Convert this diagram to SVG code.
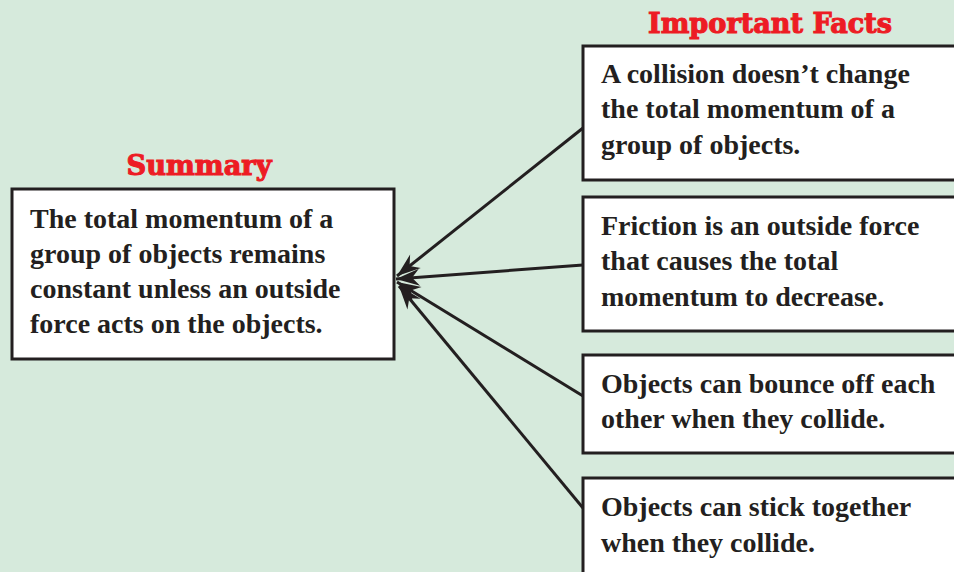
<svg xmlns="http://www.w3.org/2000/svg" width="954" height="572" viewBox="0 0 954 572">
<style>
.box{fill:#ffffff;stroke:#231f20;stroke-width:3}
.txt{font-family:"Liberation Serif","Times New Roman",serif;font-weight:bold;font-size:28px;fill:#231f20}
.hdr{font-family:"DejaVu Serif",serif;font-weight:bold;font-size:27px;fill:#ed1c24;stroke:#ed1c24;stroke-width:1.1}
.con{stroke:#231f20;stroke-width:3;fill:none}
</style>
<defs>
<marker id="ah" markerUnits="userSpaceOnUse" markerWidth="30" markerHeight="30" viewBox="-24 -12 28 24" refX="0" refY="0" orient="auto">
<path d="M0,0 L-22,-8 L-15,0 L-22,8 Z" fill="#231f20"/>
</marker>
</defs>
<rect width="954" height="572" fill="#d6eadc"/>
<g id="summary">
<text class="hdr" x="199" y="175" text-anchor="middle" textLength="145" lengthAdjust="spacingAndGlyphs">Summary</text>
<rect class="box" x="12" y="189" width="382" height="170"/>
<text class="txt" x="30" y="228">The total momentum of a</text>
<text class="txt" x="30" y="263">group of objects remains</text>
<text class="txt" x="30" y="298">constant unless an outside</text>
<text class="txt" x="30" y="333">force acts on the objects.</text>
</g>
<g id="facts-header">
<text class="hdr" x="770" y="33" text-anchor="middle" textLength="244" lengthAdjust="spacingAndGlyphs">Important Facts</text>
</g>
<g id="fact1">
<rect class="box" x="583" y="46" width="380" height="134"/>
<text class="txt" x="601" y="83">A collision doesn’t change</text>
<text class="txt" x="601" y="118">the total momentum of a</text>
<text class="txt" x="601" y="154">group of objects.</text>
</g>
<g id="fact2">
<rect class="box" x="583" y="197" width="380" height="134"/>
<text class="txt" x="601" y="235">Friction is an outside force</text>
<text class="txt" x="601" y="270">that causes the total</text>
<text class="txt" x="601" y="306">momentum to decrease.</text>
</g>
<g id="fact3">
<rect class="box" x="583" y="355" width="380" height="98"/>
<text class="txt" x="601" y="393">Objects can bounce off each</text>
<text class="txt" x="601" y="428">other when they collide.</text>
</g>
<g id="fact4">
<rect class="box" x="583" y="478" width="380" height="110"/>
<text class="txt" x="601" y="516">Objects can stick together</text>
<text class="txt" x="601" y="552">when they collide.</text>
</g>
<g id="connectors">
<line class="con" x1="583" y1="128" x2="397" y2="276" marker-end="url(#ah)"/>
<line class="con" x1="583" y1="265" x2="396" y2="279" marker-end="url(#ah)"/>
<line class="con" x1="583" y1="396" x2="397" y2="282" marker-end="url(#ah)"/>
<line class="con" x1="583" y1="508" x2="399" y2="286" marker-end="url(#ah)"/>
</g>
</svg>
